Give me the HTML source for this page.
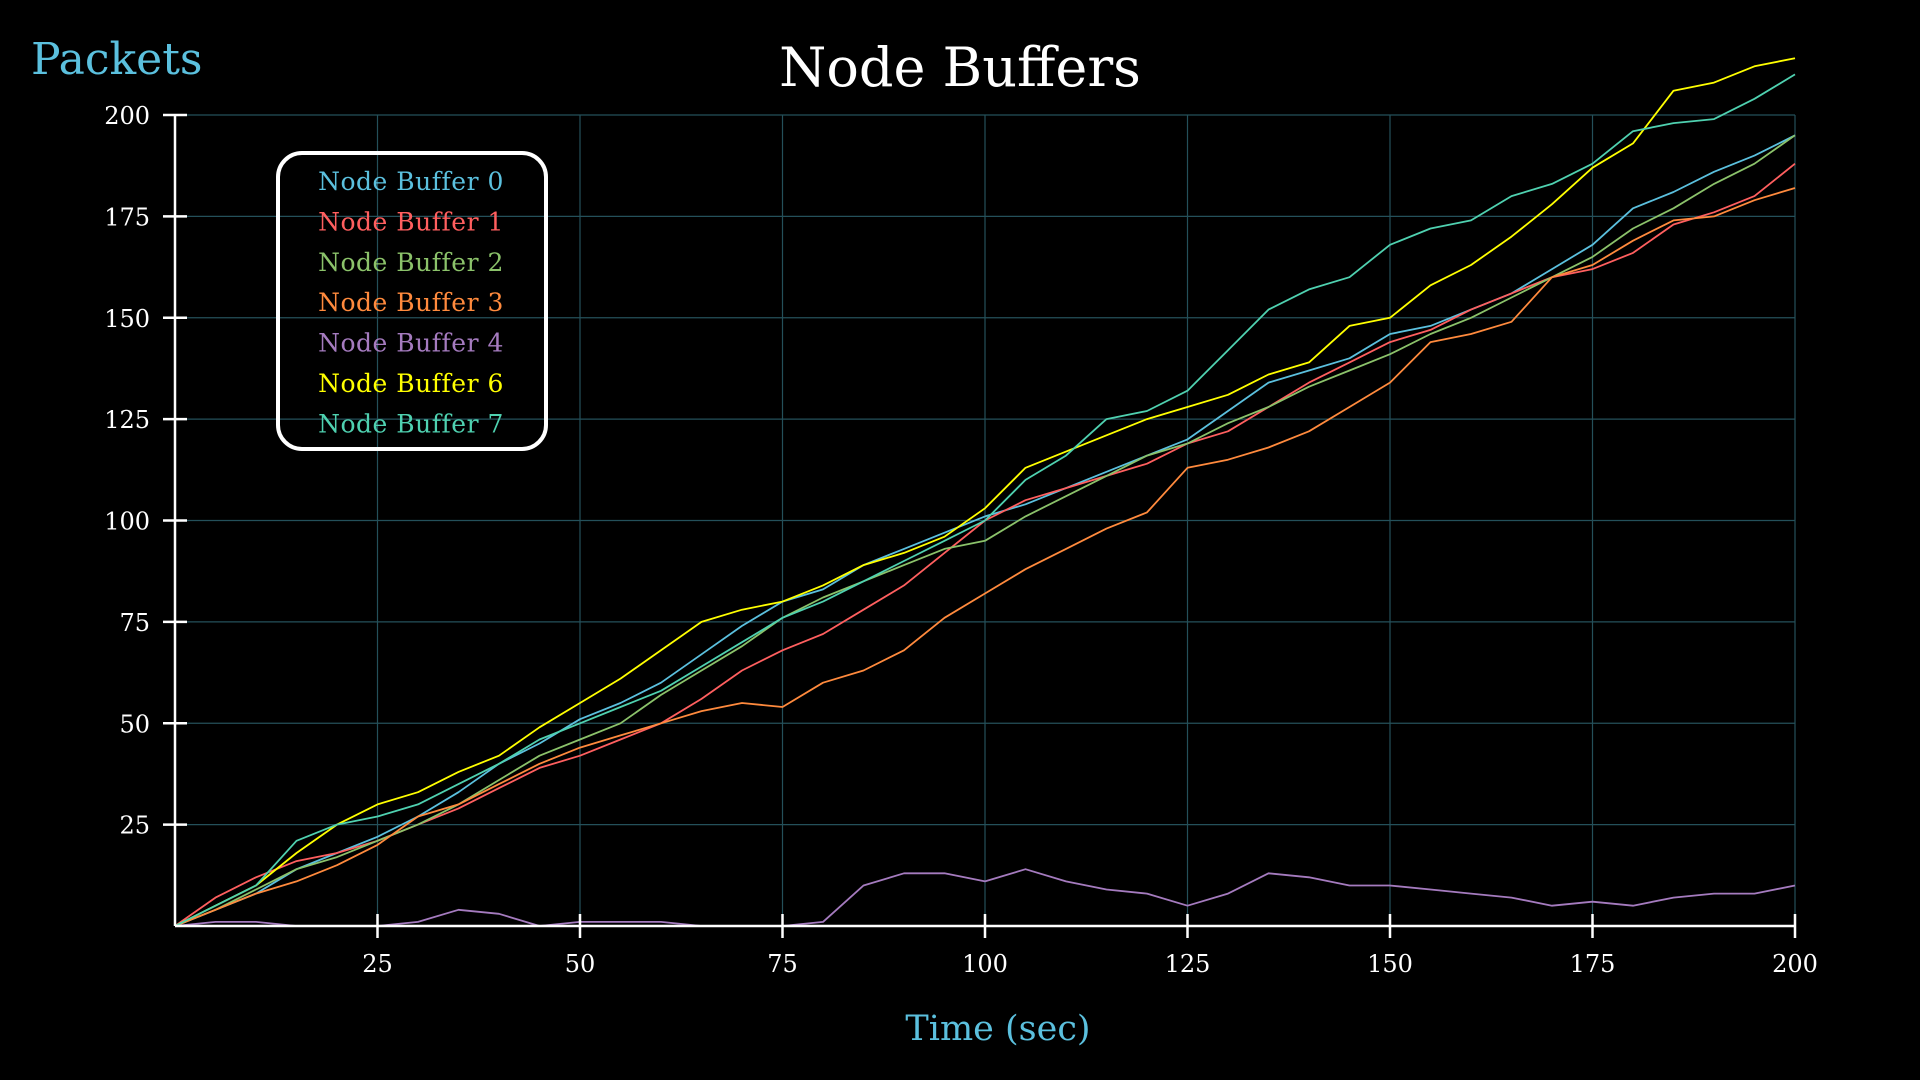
<!DOCTYPE html>
<html><head><meta charset="utf-8"><style>
html,body{margin:0;padding:0;background:#000;width:1920px;height:1080px;overflow:hidden}
svg text{font-family:"DejaVu Serif","Liberation Serif",serif}
</style></head><body>
<svg id="chart" width="1920" height="1080" xmlns="http://www.w3.org/2000/svg">
<rect width="1920" height="1080" fill="#000"/>
<g id="grid"></g>
<g id="series"></g>
<g id="axes"></g>
<text x="960" y="86" font-size="54" fill="#fff" text-anchor="middle">Node Buffers</text>
<text x="31" y="74" font-size="44" fill="#5bc0de">Packets</text>
<text x="998" y="1040" font-size="35" fill="#5bc0de" text-anchor="middle">Time (sec)</text>
<g id="legend"></g>
</svg>
<script>
const times = [0,5,10,15,20,25,30,35,40,45,50,55,60,65,70,75,80,85,90,95,100,105,110,115,120,125,130,135,140,145,150,155,160,165,170,175,180,185,190,195,200];
const buf0 = [0,4,8,14,18,22,27,33,40,45,51,55,60,67,74,80,83,89,93,97,101,104,108,112,116,120,127,134,137,140,146,148,152,156,162,168,177,181,186,190,195];
const buf1 = [0,7,12,16,18,21,25,29,34,39,42,46,50,56,63,68,72,78,84,92,100,105,108,111,114,119,122,128,134,139,144,147,152,156,160,162,166,173,176,180,188];
const buf2 = [0,4,9,14,17,21,25,30,36,42,46,50,57,63,69,76,81,85,89,93,95,101,106,111,116,119,124,128,133,137,141,146,150,155,160,165,172,177,183,188,195];
const buf3 = [0,4,8,11,15,20,27,30,35,40,44,47,50,53,55,54,60,63,68,76,82,88,93,98,102,113,115,118,122,128,134,144,146,149,160,163,169,174,175,179,182];
const buf4 = [0,1,1,0,0,0,1,4,3,0,1,1,1,0,0,0,1,10,13,13,11,14,11,9,8,5,8,13,12,10,10,9,8,7,5,6,5,7,8,8,10];
const buf6 = [0,5,10,18,25,30,33,38,42,49,55,61,68,75,78,80,84,89,92,96,103,113,117,121,125,128,131,136,139,148,150,158,163,170,178,187,193,206,208,212,214];
const buf7 = [0,5,10,21,25,27,30,35,40,46,50,54,58,64,70,76,80,85,90,95,100,110,116,125,127,132,142,152,157,160,168,172,174,180,183,188,196,198,199,204,210];
const seriesNames = ["Node Buffer 0","Node Buffer 1","Node Buffer 2","Node Buffer 3","Node Buffer 4","Node Buffer 6","Node Buffer 7"];
const seriesValues = [buf0,buf1,buf2,buf3,buf4,buf6,buf7];
const colors = ["#5bc0de","#ff5f5f","#8bc26a","#ff8a3d","#a57bbf","#ffff00","#4fd1b0"];
const xTicks = [25,50,75,100,125,150,175,200];
const yTicks = [25,50,75,100,125,150,175,200];

const NS="http://www.w3.org/2000/svg";
const X0=175,X1=1795,Y0=926,Y1=115;
const xs=v=>X0+(v/200)*(X1-X0);
const ys=v=>Y0-(v/200)*(Y0-Y1);
function mk(tag,attrs,parent){const e=document.createElementNS(NS,tag);for(const k in attrs)e.setAttribute(k,attrs[k]);parent.appendChild(e);return e;}
const grid=document.getElementById('grid'),axes=document.getElementById('axes'),ser=document.getElementById('series'),leg=document.getElementById('legend');
xTicks.forEach(t=>{
  const l=mk('line',{x1:xs(t),x2:xs(t),y1:Y1,y2:Y0,stroke:'#24505a','stroke-width':1.2},grid);
  
  
  const k=mk('line',{x1:xs(t),x2:xs(t),y1:Y0-12,y2:Y0+12,stroke:'#fff','stroke-width':2.5},axes);
  
  
  const tx=mk('text',{x:xs(t),y:Y0+46,'font-size':24,fill:'#fff','text-anchor':'middle'},axes);
  tx.textContent=t;
  
  
});
yTicks.forEach(t=>{
  const l=mk('line',{x1:X0,x2:X1,y1:ys(t),y2:ys(t),stroke:'#24505a','stroke-width':1.2},grid);
  
  
  const k=mk('line',{x1:X0-12,x2:X0+12,y1:ys(t),y2:ys(t),stroke:'#fff','stroke-width':2.5},axes);
  
  
  const tx=mk('text',{x:X0-25,y:ys(t)+9,'font-size':24,fill:'#fff','text-anchor':'end'},axes);
  tx.textContent=t;
  
  
});
const xa=mk('line',{x1:X0,x2:X1,y1:Y0,y2:Y0,stroke:'#fff','stroke-width':2.5},axes);


const ya=mk('line',{x1:X0,x2:X0,y1:Y1,y2:Y0,stroke:'#fff','stroke-width':2.5},axes);


seriesValues.forEach((vals,i)=>{
  const pts=vals.map((v,j)=>xs(times[j]).toFixed(1)+','+ys(v).toFixed(1)).join(' ');
  const p=mk('polyline',{points:pts,fill:'none',stroke:colors[i],'stroke-width':1.8,'stroke-linejoin':'round'},ser);
  
  
});
const box=mk('rect',{x:278,y:153,width:268,height:296,rx:24,fill:'none',stroke:'#fff','stroke-width':4},leg);


seriesNames.forEach((n,i)=>{
  const t=mk('text',{x:411,y:190+i*40.4,'font-size':25,fill:colors[i],'text-anchor':'middle','letter-spacing':'0.5'},leg);
  t.textContent=n;
  
  
});
</script>
</body></html>
